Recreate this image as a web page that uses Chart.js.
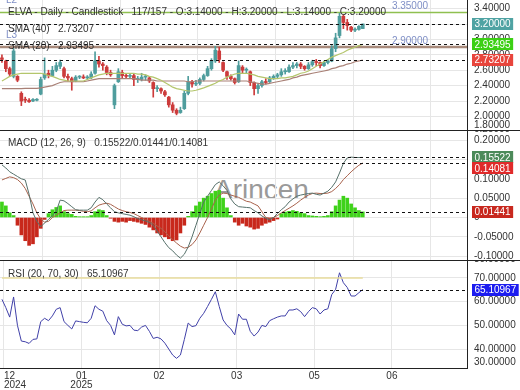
<!DOCTYPE html>
<html>
<head>
<meta charset="utf-8">
<script src="https://cdn.jsdelivr.net/npm/chart.js@4/dist/chart.umd.min.js"></script>
<style>
body{margin:0;background:#fff;font-family:"Liberation Sans",Arial,sans-serif;}
#wrap{position:relative;width:520px;height:390px;overflow:hidden;}
canvas{position:absolute;left:0;}
.t{position:absolute;left:8px;font-size:10px;line-height:12px;color:#333;white-space:pre;}
#wm{position:absolute;left:214px;top:176px;font-size:28px;line-height:28px;color:#9a9a9a;}
</style>
</head>
<body>
<div id="wrap">
<div id="wm">Arincen</div>
<canvas id="price" width="520" height="131" style="top:0"></canvas>
<canvas id="macd" width="520" height="130" style="top:131px"></canvas>
<canvas id="rsi" width="520" height="129" style="top:261px"></canvas>
<div class="t" style="top:6px">ELVA - Daily - Candlestick   117/157 - O:3.14000 - H:3.20000 - L:3.14000 - C:3.20000</div>
<div class="t" style="top:23px">SMA (40)   2.73207</div>
<div class="t" style="top:40px">SMA (20)   2.93495</div>
<div class="t" style="top:137px">MACD (12, 26, 9)   0.15522/0.01441/0.14081</div>
<div class="t" style="top:268px">RSI (20, 70, 30)   65.10967</div>
</div>
<script>
// daily bars, oldest first (late Nov 2024 .. late May 2025)
const opens = [2.76,2.72,2.62,2.52,2.52,2.30,2.22,2.21,2.20,2.21,2.29,
  2.50,2.56,2.53,2.60,2.65,2.62,2.52,2.49,2.46,2.51,2.51,
  2.50,2.50,2.56,2.72,2.68,2.64,2.57,2.15,2.45,2.57,2.53,2.52,
  2.53,2.48,2.48,2.51,2.50,2.44,2.36,2.36,2.32,2.25,2.15,2.08,
  2.05,2.10,2.30,2.45,2.42,2.43,2.48,2.53,2.62,2.72,2.85,2.70,
  2.58,2.52,2.49,2.45,2.64,2.60,2.58,2.44,2.36,2.40,2.45,2.45,
  2.50,2.52,2.54,2.58,2.58,2.64,2.66,2.68,2.65,2.62,2.67,2.71,
  2.70,2.66,2.70,2.72,2.88,3.05,3.30,3.22,3.16,3.12,3.13,3.14];
const highs = [2.80,2.73,2.64,2.88,2.53,2.32,2.25,2.23,2.23,2.23,2.51,
  2.76,2.60,2.65,2.70,2.73,2.64,2.55,2.51,2.53,2.53,2.54,
  2.53,2.58,2.84,2.78,2.70,2.66,2.60,2.42,2.62,2.60,2.56,2.56,
  2.55,2.52,2.56,2.54,2.52,2.45,2.40,2.37,2.34,2.26,2.18,2.10,
  2.12,2.33,2.52,2.47,2.47,2.50,2.55,2.65,2.75,2.91,2.90,2.71,
  2.59,2.54,2.50,2.72,2.66,2.63,2.59,2.45,2.42,2.47,2.49,2.52,
  2.54,2.56,2.62,2.62,2.67,2.70,2.70,2.70,2.66,2.70,2.73,2.74,
  2.71,2.72,2.74,2.92,3.08,3.34,3.32,3.26,3.17,3.15,3.18,3.20];
const lows = [2.70,2.58,2.52,2.50,2.45,2.14,2.18,2.18,2.19,2.20,2.28,
  2.48,2.50,2.52,2.58,2.62,2.50,2.46,2.34,2.45,2.49,2.49,
  2.48,2.49,2.55,2.64,2.60,2.54,2.52,2.10,2.44,2.50,2.50,2.50,
  2.40,2.44,2.46,2.47,2.44,2.25,2.32,2.30,2.26,2.12,2.05,2.02,
  2.04,2.09,2.28,2.38,2.40,2.41,2.46,2.52,2.60,2.70,2.70,2.58,
  2.48,2.47,2.42,2.44,2.56,2.56,2.40,2.28,2.30,2.38,2.42,2.44,
  2.48,2.50,2.52,2.55,2.57,2.62,2.63,2.62,2.60,2.61,2.65,2.66,
  2.63,2.65,2.68,2.71,2.84,3.02,3.14,3.12,3.10,3.10,3.12,3.14];
const closes = [2.74,2.62,2.55,2.85,2.47,2.20,2.21,2.19,2.22,2.22,2.48,
  2.55,2.53,2.60,2.66,2.70,2.52,2.50,2.45,2.51,2.51,2.50,
  2.50,2.55,2.72,2.68,2.66,2.57,2.54,2.40,2.58,2.53,2.52,2.53,
  2.48,2.48,2.51,2.52,2.46,2.36,2.37,2.33,2.28,2.15,2.08,2.04,
  2.08,2.30,2.45,2.42,2.43,2.48,2.53,2.62,2.72,2.86,2.74,2.60,
  2.52,2.49,2.44,2.66,2.60,2.60,2.44,2.36,2.40,2.45,2.44,2.50,
  2.52,2.54,2.58,2.58,2.64,2.66,2.68,2.65,2.62,2.67,2.71,2.70,
  2.66,2.70,2.72,2.88,3.02,3.30,3.22,3.18,3.12,3.12,3.17,3.20];
const sma20 = [2.46,2.49,2.52,2.54,2.55,2.56,2.56,2.56,2.56,2.56,2.56,
  2.55,2.53,2.52,2.50,2.48,2.47,2.46,2.46,2.46,2.46,2.46,
  2.48,2.50,2.52,2.54,2.55,2.56,2.56,2.56,2.56,2.56,2.56,2.56,
  2.56,2.55,2.55,2.54,2.52,2.51,2.49,2.47,2.44,2.41,2.38,2.36,
  2.35,2.34,2.33,2.33,2.34,2.355,2.37,2.39,2.41,2.43,2.46,2.48,
  2.51,2.53,2.55,2.56,2.56,2.56,2.55,2.54,2.52,2.51,2.50,2.49,
  2.49,2.49,2.50,2.50,2.51,2.52,2.54,2.56,2.57,2.59,2.62,2.65,
  2.68,2.71,2.74,2.77,2.79,2.81,2.83,2.86,2.88,2.90,2.92,2.93495];
const sma40 = [2.36,2.36,2.36,2.36,2.36,2.36,2.365,2.365,2.365,2.365,2.37,
  2.38,2.39,2.40,2.42,2.44,2.45,2.45,2.45,2.45,2.45,2.45,
  2.46,2.47,2.48,2.49,2.49,2.49,2.49,2.49,2.49,2.49,2.49,2.49,
  2.49,2.48,2.47,2.47,2.47,2.47,2.46,2.46,2.46,2.46,2.46,2.46,
  2.46,2.46,2.45,2.45,2.46,2.46,2.46,2.46,2.46,2.46,2.46,2.46,
  2.46,2.46,2.46,2.46,2.46,2.46,2.45,2.44,2.43,2.42,2.42,2.43,
  2.44,2.45,2.46,2.47,2.48,2.50,2.51,2.53,2.54,2.55,2.56,2.57,
  2.58,2.59,2.60,2.62,2.63,2.65,2.66,2.68,2.69,2.71,2.72,2.73207];
const macdLine = [0.136,0.128,0.118,0.112,0.106,0.100,0.097,0.060,0.012,-0.010,-0.024,
  -0.014,-0.005,0.005,0.016,0.045,0.043,0.036,0.028,0.020,0.019,0.019,
  0.019,0.025,0.040,0.052,0.046,0.035,0.025,0.015,0.012,0.010,0.008,0.006,
  0.002,-0.003,-0.006,-0.009,-0.013,-0.020,-0.035,-0.050,-0.065,-0.078,-0.086,-0.097,
  -0.105,-0.095,-0.076,-0.050,-0.020,0.010,0.040,0.055,0.070,0.085,0.092,0.082,
  0.070,0.048,0.035,0.028,0.027,0.026,0.025,0.018,0.012,0.004,-0.002,-0.006,
  0.000,0.010,0.020,0.028,0.040,0.048,0.055,0.058,0.060,0.062,0.063,0.060,
  0.058,0.063,0.068,0.078,0.092,0.115,0.140,0.154,0.156,0.155,0.155,0.15522];
const macdSignal = [0.097,0.101,0.105,0.103,0.098,0.089,0.075,0.055,0.035,0.012,-0.004,
  -0.012,-0.010,0.000,0.006,0.012,0.018,0.019,0.019,0.019,0.018,0.016,
  0.015,0.017,0.025,0.032,0.035,0.037,0.034,0.028,0.022,0.018,0.015,0.013,
  0.010,0.005,0.000,-0.005,-0.010,-0.015,-0.022,-0.028,-0.037,-0.047,-0.057,-0.066,
  -0.074,-0.079,-0.077,-0.070,-0.058,-0.040,-0.020,0.000,0.022,0.045,0.058,0.063,
  0.062,0.058,0.055,0.052,0.047,0.042,0.040,0.035,0.030,0.015,0.000,-0.002,
  0.000,0.005,0.012,0.018,0.024,0.030,0.037,0.045,0.052,0.058,0.062,0.063,
  0.062,0.062,0.063,0.067,0.075,0.085,0.098,0.108,0.118,0.127,0.135,0.14081];
const macdHist = [0.040,0.030,0.012,0.005,-0.020,-0.045,-0.060,-0.072,-0.068,-0.050,-0.028,
  -0.005,0.010,0.020,0.026,0.030,0.015,0.010,0.008,0.003,0.002,0.002,
  0.002,0.005,0.015,0.020,0.018,0.005,-0.002,-0.010,-0.012,-0.010,-0.012,-0.008,
  -0.010,-0.012,-0.015,-0.018,-0.025,-0.032,-0.040,-0.045,-0.050,-0.055,-0.060,-0.058,
  -0.040,-0.020,0.003,0.015,0.030,0.040,0.050,0.055,0.062,0.068,0.070,0.050,
  0.025,0.005,-0.012,-0.020,-0.015,-0.022,-0.025,-0.030,-0.028,-0.020,-0.015,-0.012,
  -0.008,-0.004,0.010,0.014,0.016,0.018,0.016,0.012,0.010,0.005,0.004,0.003,
  0.002,0.003,0.005,0.015,0.030,0.045,0.055,0.050,0.035,0.025,0.018,0.01441];
const rsi = [61,57.5,53.5,62,50,43.4,43.1,42.4,44.1,44.3,51.6,
  53,52,54,56.8,57.5,51.6,50,48.5,51.9,51.6,51.3,
  51.1,53,58.3,56.8,56,52,50,46,53.7,50.5,49.8,50,
  48,47.8,49.3,50,47.5,44.5,45,44.3,42.5,40,37.5,36.1,
  37.5,44,51,49.5,49.9,53,55.1,58,61,64.2,58,52.3,
  50,48.5,46,54.8,52.6,52.6,47.5,45.5,47.2,50,49.5,52,
  52.8,53.5,54,54,56.5,56.5,57,55.8,53.7,55.8,57.5,57,
  54.8,56.5,57,63,65.2,72.2,68,66,62.4,62.4,63.8,65.10967];
const rsiUpper = 70;

// axes
const gridBars = [0.5,20.5,40.5,60.5,80.5,100.5];
const monthLabels = [['12','2024'],['01','2025'],'02','03','05','06'];
const priceTicks = [2.0,2.2,2.4,2.6,2.8,3.0,3.2,3.4];
const priceEdge = [1.8];
const macdTicks = [-0.10,-0.05,0,0.05,0.10,0.15,0.20];
const macdEdge = [0.25];
const rsiTicks = [40,50,60,70];
const rsiEdge = [80,30];
const levels = [{v:3.35,name:'L2',color:'#8fc050',width:1.5},{v:2.90,name:'L3',color:'#a98b7c',width:2.5}];

const UP='#4f9d9d', DOWN='#cc3b3b';
const FONT='"Liberation Sans", Arial, sans-serif';
Chart.defaults.font.family=FONT;
Chart.defaults.font.size=10;
Chart.defaults.color='#333';
Chart.defaults.animation=false;

const X_MIN=-0.5, X_MAX=X_MIN+467/3.88;
const fmt5 = v => v===0 ? '0' : Number(v).toFixed(5);
const pts = arr => arr.map((v,i)=>({x:i,y:v}));

function xAxis(withLabels){
  return {
    type:'linear', min:X_MIN, max:X_MAX, offset:false,
    afterBuildTicks:s=>{ s.ticks=gridBars.map(v=>({value:v})); if(withLabels) s.ticks.push({value:X_MAX}); },
    afterFit:s=>{ s.height=withLabels?22:0; s.paddingLeft=0; s.paddingRight=0; },
    grid:{color:'#e6e6e6', drawTicks:false},
    border:{display:withLabels, color:'#222'},
    ticks:{display:withLabels, align:'inner', maxRotation:0, autoSkip:false, padding:4,
      font:{size:10, lineHeight:0.9}, callback:(v,i)=>monthLabels[i]||''}
  };
}
function yAxis(min,max,ticks){
  return {
    position:'right', min:min, max:max,
    afterBuildTicks:s=>{ s.ticks=ticks.map(v=>({value:v})); },
    afterFit:s=>{ s.width=53; s.paddingTop=0; s.paddingBottom=0; },
    grid:{color:'#e6e6e6', drawTicks:false},
    border:{color:'#222'},
    ticks:{padding:7, callback:fmt5}
  };
}

function overlay(o){
  return {
    id:'overlay',
    beforeDatasetsDraw(chart){
      const {ctx, chartArea:a, scales:{x,y}} = chart;
      (o.levels||[]).forEach(l=>{
        const py=y.getPixelForValue(l.v);
        ctx.save();
        ctx.strokeStyle=l.color; ctx.lineWidth=l.width;
        ctx.beginPath(); ctx.moveTo(a.left,py); ctx.lineTo(a.right,py); ctx.stroke();
        ctx.fillStyle='#7f8fc6'; ctx.font='10px '+FONT; ctx.textBaseline='middle';
        ctx.fillText(l.name, a.left+6, py-12);
        ctx.fillText(l.v.toFixed(5), x.getPixelForValue(gridBars[5]), py-6);
        ctx.restore();
      });
    },
    afterDatasetsDraw(chart){
      const {ctx, chartArea:a, scales:{y}} = chart;
      ctx.save(); ctx.strokeStyle='#111'; ctx.lineWidth=1; ctx.setLineDash([3,3]);
      o.tags.forEach(t=>{
        const py=Math.round(y.getPixelForValue(t.v))+0.5;
        ctx.beginPath(); ctx.moveTo(a.left,py); ctx.lineTo(a.right,py); ctx.stroke();
      });
      ctx.restore();
    },
    afterDraw(chart){
      const {ctx, chartArea:a, scales:{y}} = chart;
      ctx.save(); ctx.font='10px '+FONT; ctx.textBaseline='middle';
      ctx.fillStyle='#333';
      (o.edge||[]).forEach(v=>{
        let py=y.getPixelForValue(v);
        py=Math.min(Math.max(py,a.top-2),a.bottom-6);
        ctx.fillText(fmt5(v), a.right+7, py);
      });
      let last=-1e9;
      o.tags.map(t=>Object.assign({py:y.getPixelForValue(t.v)},t))
        .sort((p,q)=>p.py-q.py).forEach(t=>{
          const py=Math.max(t.py,last+11); last=py;
          const txt=t.v.toFixed(5);
          const w=ctx.measureText(txt).width+5;
          ctx.fillStyle=t.bg; ctx.fillRect(a.right+5, Math.round(py)-6, w, 12);
          ctx.fillStyle=t.fg; ctx.fillText(txt, a.right+7.5, py+0.5);
        });
      if(o.sep){
        ctx.strokeStyle='#222'; ctx.lineWidth=1;
        ctx.beginPath(); ctx.moveTo(0,chart.height-0.5); ctx.lineTo(chart.width,chart.height-0.5); ctx.stroke();
      }
      ctx.restore();
    }
  };
}

const last = closes.length-1;
const candleColors = closes.map((c,i)=> c>=opens[i] ? UP : DOWN);

new Chart(document.getElementById('price'), {
  type:'bar',
  data:{datasets:[
    {type:'line', data:pts(sma20), borderColor:'#b4c66c', borderWidth:1.2, pointRadius:0, order:0},
    {type:'line', data:pts(sma40), borderColor:'#a98076', borderWidth:1.2, pointRadius:0, order:0},
    {data:highs.map((h,i)=>({x:i,y:[lows[i],h]})), backgroundColor:candleColors, barThickness:1, grouped:false, order:2},
    {data:opens.map((o,i)=>({x:i,y:[o,closes[i]]})), backgroundColor:candleColors, barThickness:3, minBarLength:1, grouped:false, order:1}
  ]},
  options:{responsive:false, layout:{padding:0},
    plugins:{legend:{display:false}, tooltip:{enabled:false}},
    scales:{x:xAxis(false), y:yAxis(1.8104,3.5117,priceTicks)}},
  plugins:[overlay({sep:true, levels:levels, edge:priceEdge, tags:[
    {v:closes[last], bg:'#4fa3a3', fg:'#fff'},
    {v:sma20[last], bg:'#3cd014', fg:'#fff'},
    {v:sma40[last], bg:'#e8453c', fg:'#fff'}]})]
});

new Chart(document.getElementById('macd'), {
  type:'bar',
  data:{datasets:[
    {type:'line', data:pts(macdLine), borderColor:'#56706a', borderWidth:1, pointRadius:0, order:0},
    {type:'line', data:pts(macdSignal), borderColor:'#a8624c', borderWidth:1, pointRadius:0, order:0},
    {data:pts(macdHist), backgroundColor:macdHist.map(v=>v>=0?'#3fd21a':'#c8281c'), barThickness:3, grouped:false, order:1}
  ]},
  options:{responsive:false, layout:{padding:0},
    plugins:{legend:{display:false}, tooltip:{enabled:false}},
    scales:{x:xAxis(false), y:yAxis(-0.1124,0.2235,macdTicks)}},
  plugins:[overlay({sep:true, edge:macdEdge, tags:[
    {v:macdLine[last], bg:'#4c8a5a', fg:'#fff'},
    {v:macdSignal[last], bg:'#e02a2a', fg:'#fff'},
    {v:macdHist[last], bg:'#c8281e', fg:'#fff'}]})]
});

new Chart(document.getElementById('rsi'), {
  type:'line',
  data:{datasets:[
    {data:[{x:0,y:rsiUpper},{x:last,y:rsiUpper}], borderColor:'#e8dc9c', borderWidth:1.5, pointRadius:0},
    {data:pts(rsi), borderColor:'#4040a8', borderWidth:1, pointRadius:0}
  ]},
  options:{responsive:false, layout:{padding:0},
    plugins:{legend:{display:false}, tooltip:{enabled:false}},
    scales:{x:xAxis(true), y:yAxis(32.03,77.17,rsiTicks)}},
  plugins:[overlay({sep:false, edge:rsiEdge, tags:[
    {v:rsi[last], bg:'#1c1cf0', fg:'#fff'}]})]
});
</script>
</body>
</html>
